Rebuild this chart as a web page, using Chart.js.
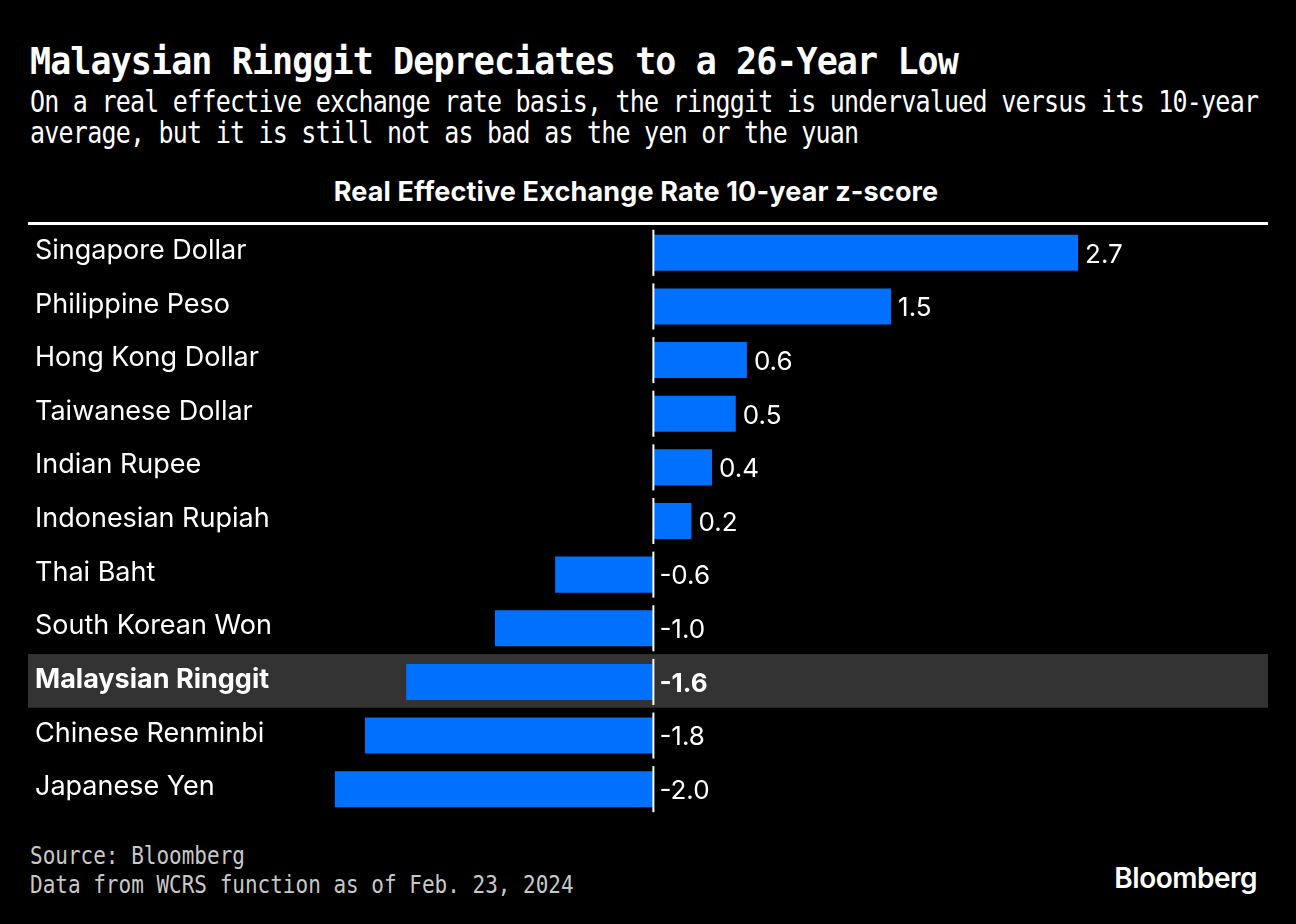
<!DOCTYPE html>
<html lang="en">
<head>
  <meta charset="UTF-8">
  <title>Malaysian Ringgit Depreciates to a 26-Year Low</title>
  <style>
    html, body { margin: 0; padding: 0; background: #000; }
    body { width: 1296px; height: 924px; position: relative; overflow: hidden; color: #fff; }
    .title { position: absolute; left: 30px; top: 40px; font-family: "DejaVu Sans Mono", monospace; font-weight: bold; font-size: 35px; letter-spacing: -0.9px; white-space: nowrap; transform: scaleY(1.06); transform-origin: left top; }
    .subtitle { position: absolute; left: 30px; top: 87px; font-family: "DejaVu Sans Mono", monospace; font-size: 25px; letter-spacing: -0.77px; line-height: 26px; white-space: nowrap; transform: scaleY(1.2); transform-origin: left top; }
    .header { position: absolute; left: 16px; width: 1240px; top: 178px; text-align: center; font-family: Inter, "Liberation Sans", sans-serif; font-weight: bold; font-size: 27px; line-height: 27px; letter-spacing: 0.15px; white-space: nowrap; }
    .rule { position: absolute; left: 28px; width: 1240px; top: 222px; height: 3px; background: #fff; }
    .chart-wrap { position: absolute; left: 0; top: 226px; width: 1296px; height: 590px; }
    .footer { position: absolute; left: 30px; top: 841px; font-family: "DejaVu Sans Mono", monospace; font-size: 21px; line-height: 24.2px; color: #c8c8c8; white-space: nowrap; transform: scaleY(1.2); transform-origin: left top; }
    .logo { position: absolute; right: 39px; top: 861px; font-family: Inter, "Liberation Sans", sans-serif; font-weight: 600; font-size: 28px; letter-spacing: -0.5px; }
  </style>
  <script src="https://cdn.jsdelivr.net/npm/chart.js"></script>
</head>
<body>
  <div class="title">Malaysian Ringgit Depreciates to a 26-Year Low</div>
  <div class="subtitle">On a real effective exchange rate basis, the ringgit is undervalued versus its 10-year<br>average, but it is still not as bad as the yen or the yuan</div>
  <div class="header">Real Effective Exchange Rate 10-year z-score</div>
  <div class="rule"></div>
  <div class="chart-wrap"><canvas id="chart" width="1296" height="590"></canvas></div>
  <div class="footer">Source: Bloomberg<br>Data from WCRS function as of Feb. 23, 2024</div>
  <div class="logo">Bloomberg</div>

  <script>
    const currencies = ['Singapore Dollar', 'Philippine Peso', 'Hong Kong Dollar', 'Taiwanese Dollar',
      'Indian Rupee', 'Indonesian Rupiah', 'Thai Baht', 'South Korean Won', 'Malaysian Ringgit',
      'Chinese Renminbi', 'Japanese Yen'];
    // bar lengths; labels show one decimal
    const zScores = [2.68, 1.50, 0.59, 0.52, 0.37, 0.24, -0.62, -1.00, -1.56, -1.82, -2.01];
    const highlight = 'Malaysian Ringgit';

    const nameFont = '27px Inter, "Liberation Sans", sans-serif';
    const nameFontBold = 'bold 27px Inter, "Liberation Sans", sans-serif';
    const valueFont = '26px Inter, "Liberation Sans", sans-serif';
    const valueFontBold = 'bold 26px Inter, "Liberation Sans", sans-serif';

    // grey band behind the highlighted row
    const bandPlugin = {
      id: 'band',
      beforeDatasetsDraw(chart) {
        const ctx = chart.ctx;
        const y = chart.scales.y;
        const i = currencies.indexOf(highlight);
        const step = y.getPixelForValue(1) - y.getPixelForValue(0);
        const cy = y.getPixelForValue(i);
        ctx.save();
        ctx.fillStyle = '#333333';
        ctx.fillRect(28, cy - step / 2 - 1, 1240, step);
        ctx.restore();
      }
    };

    // names, values and the zero line
    const textPlugin = {
      id: 'texts',
      afterDatasetsDraw(chart) {
        const ctx = chart.ctx;
        const x0 = chart.scales.x.getPixelForValue(0);
        const meta = chart.getDatasetMeta(0);
        ctx.save();
        ctx.fillStyle = '#fff';
        ctx.textBaseline = 'middle';
        meta.data.forEach((bar, i) => {
          const bold = currencies[i] === highlight;
          const h = bar.height;
          ctx.strokeStyle = '#fff';
          ctx.lineWidth = 2;
          ctx.beginPath();
          ctx.moveTo(x0, bar.y - h / 2 - 5);
          ctx.lineTo(x0, bar.y + h / 2 + 5);
          ctx.stroke();

          ctx.textAlign = 'left';
          ctx.font = bold ? nameFontBold : nameFont;
          ctx.fillText(currencies[i], 35, bar.y - 2);

          const v = zScores[i];
          const tx = v >= 0 ? bar.x + 7 : x0 + 6;
          ctx.font = bold ? valueFontBold : valueFont;
          ctx.fillText(v.toFixed(1), tx, bar.y + 2);
        });
        ctx.restore();
      }
    };

    new Chart(document.getElementById('chart'), {
      type: 'bar',
      data: {
        labels: currencies,
        datasets: [{
          data: zScores,
          backgroundColor: '#0070ff',
          borderWidth: 0,
          barPercentage: 0.672,
          categoryPercentage: 1.0
        }]
      },
      options: {
        indexAxis: 'y',
        responsive: false,
        animation: false,
        devicePixelRatio: 1,
        layout: { padding: { left: 178, right: 88, top: 0, bottom: 0 } },
        scales: {
          x: { display: false, min: -3, max: 3.5 },
          y: { display: false }
        },
        plugins: {
          legend: { display: false },
          tooltip: { enabled: false }
        }
      },
      plugins: [bandPlugin, textPlugin]
    });
  </script>
</body>
</html>
